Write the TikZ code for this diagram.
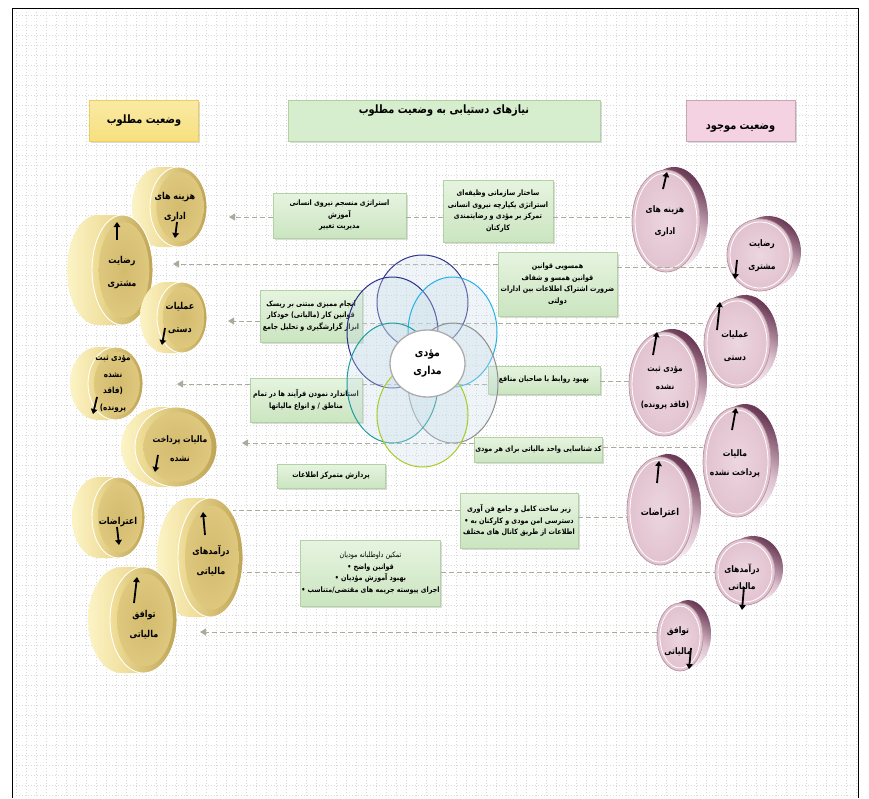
\documentclass[tikz,border=0pt]{standalone}
\usepackage{fontspec}
\usetikzlibrary{arrows.meta,shadows,shapes.geometric}
\TeXXeTstate=1
\newfontfamily\arabicfont[Script=Arabic, FakeStretch=0.85]{DejaVu Sans}
\newcommand{\fa}[1]{\beginR #1\endR}
\definecolor{gtop}{HTML}{E6F4E0}
\definecolor{gbot}{HTML}{CBE5C0}
\definecolor{gborder}{HTML}{B2D2A4}
\definecolor{dashc}{HTML}{A6AD9A}
\definecolor{ysideL}{HTML}{FCF4C6}
\definecolor{ysideR}{HTML}{EBD58A}
\definecolor{yfaceL}{HTML}{F1E09A}
\definecolor{yfaceR}{HTML}{BFA455}
\definecolor{yin}{HTML}{D3BB6E}
\definecolor{yout}{HTML}{DEC87E}
\definecolor{pface}{HTML}{E2C3D0}
\definecolor{pinner}{HTML}{ECD6E0}
\definecolor{pborder}{HTML}{B9929F}
\definecolor{pdark}{HTML}{6A3A56}
\definecolor{pmid}{HTML}{DCC0CD}
\definecolor{hY}{HTML}{F7E07E}
\definecolor{hYb}{HTML}{EDCF5C}
\definecolor{hG}{HTML}{D6EECD}
\definecolor{hP}{HTML}{F5D2E2}
\definecolor{vfill}{HTML}{C9DDEA}
\definecolor{navyA}{HTML}{34358F}
\definecolor{navyB}{HTML}{2C2E8C}
\definecolor{cyanC}{HTML}{22B2E6}
\definecolor{grayD}{HTML}{8E8E8E}
\definecolor{tealE}{HTML}{1E9C9E}
\definecolor{limeF}{HTML}{A9CC22}
\newcommand{\ycoin}[6]{%
  \path[left color=ysideL, right color=ysideR] ({#2},{#3-#5}) -- ({#2-#6},{#3-#5})
     arc[start angle=270, end angle=90, x radius=#4, y radius=#5] -- ({#2},{#3+#5}) -- cycle;
  \path[left color=yfaceL, right color=yfaceR, draw=white, line width=0.9pt] (#2,#3) ellipse ({#4} and {#5});
  \path[inner color=yin, outer color=yout] ({#2+1.5},#3) ellipse ({0.83*#4} and {0.87*#5});
  \node[coinnode, minimum width={2*#4}, minimum height={2*#5}] (#1) at (#2,#3) {};
}
\newcommand{\pcoin}[5]{%
  \path[shading=axis, top color=pdark, bottom color=white, middle color=pmid, shading angle=-35]
     ({#2+8},{#3-3}) ellipse ({#4} and {#5});
  \path[fill=pface, draw=pborder, line width=0.7pt] (#2,#3) ellipse ({#4} and {#5});
  \path[inner color=pinner, outer color=pface, draw=white, line width=0.8pt] (#2,#3) ellipse ({#4-3} and {#5-3});
  \node[coinnode, minimum width={2*#4}, minimum height={2*#5}] (#1) at (#2,#3) {};
}
\begin{document}
\begin{tikzpicture}[x=1pt,y=-1pt,
  griddot/.style={draw=gray!30, line width=0.5pt, dash pattern=on 0.6pt off 2.4pt},
  coinnode/.style={ellipse, inner sep=0pt, outer sep=0pt},
  gbox/.style={draw=gborder, line width=0.5pt, top color=gtop, bottom color=gbot,
     drop shadow={shadow xshift=1.5pt, shadow yshift=-1.5pt, fill=gray!55},
     inner sep=1pt, align=center, font=\arabicfont\bfseries\fontsize{7.5}{11.5}\selectfont},
  hdr/.style={line width=0.5pt, drop shadow={shadow xshift=1.5pt, shadow yshift=-1.5pt, fill=gray!55}},
  htext/.style={font=\arabicfont\bfseries\fontsize{11.5}{13}\selectfont, inner sep=0pt},
  ctext/.style={font=\arabicfont\bfseries\fontsize{9.5}{20}\selectfont, align=center, inner sep=0pt},
  dashline/.style={draw=dashc, line width=1pt, dash pattern=on 5pt off 3pt},
  darrow/.style={dashline, -{Triangle[length=6pt, width=7pt, fill=dashc]}},
  coinarrow/.style={line width=1.8pt, -{Triangle[length=5pt, width=6.5pt]}},
  venn/.style={line width=1pt, fill=vfill, fill opacity=0.3}]
\useasboundingbox (0,0) rectangle (869,798);
\fill[white] (0,0) rectangle (869,798);
% dotted background grid
\foreach \yy in {15,25,...,795} \draw[griddot] (16,\yy) -- (856,\yy);
\foreach \xx in {16,26,...,856} \draw[griddot] (\xx,12) -- (\xx,798);
% frame
\draw[black, line width=0.8pt] (12,798) -- (12,8) -- (858,8) -- (858,798);

% headers
\node[hdr, draw=hYb, top color=hY!70!white, bottom color=hY, minimum width=109pt, minimum height=41pt] (hY) at (144,120.5) {};
\node[htext] at (hY) {\fa{وضعیت مطلوب}};
\node[hdr, draw=gborder, fill=hG, minimum width=312pt, minimum height=41pt] (hG) at (444,120.5) {};
\node[htext] at (444,111) {\fa{نیازهای دستیابی به وضعیت مطلوب}};
\node[hdr, draw=hP!80!black, fill=hP, minimum width=109pt, minimum height=41pt] (hP) at (740.5,120.5) {};
\node[htext] at (740.5,128) {\fa{وضعیت موجود}};

% green boxes
\node[gbox, minimum width=133pt, minimum height=45pt] (A) at (339.5,215.5)
  {\fa{استراتژی منسجم  نیروی انسانی}\\\fa{آموزش}\\\fa{مدیریت تغییر}};
\node[gbox, minimum width=110pt, minimum height=62pt] (B) at (498,211)
  {\fa{ساختار سازمانی وظیفه‌ای}\\\fa{استراتژی یکپارچه نیروی انسانی}\\\fa{تمرکز بر مؤدی و رضایتمندی}\\\fa{کارکنان}};
\node[gbox, minimum width=119pt, minimum height=64pt] (C) at (557.5,284)
  {\fa{همسویی قوانین}\\\fa{قوانین همسو و شفاف}\\\fa{ضرورت اشتراک  اطلاعات بین ادارات}\\\fa{دولتی}};
\node[gbox, minimum width=102pt, minimum height=52pt] (D) at (311,316)
  {\fa{انجام ممیزی مبتنی بر ریسک}\\\fa{قوانین کار (مالیاتی) خودکار}\\\fa{ابزار گزارشگیری و تحلیل جامع}};
\node[gbox, minimum width=112pt, minimum height=28pt] (E) at (544,380)
  {\fa{بهبود روابط با صاحبان منافع}};
\node[gbox, minimum width=112pt, minimum height=44pt] (F) at (306,400)
  {\fa{استاندارد نمودن فرآیند ها در تمام}\\\fa{مناطق / و انواع مالیاتها}};
\node[gbox, minimum width=127pt, minimum height=25pt] (G) at (538.5,449.5)
  {\fa{کد شناسایی واحد مالیاتی برای هر مودی}};
\node[gbox, minimum width=108pt, minimum height=24pt] (J) at (331,476)
  {\fa{پردازش متمرکز اطلاعات}};
\node[gbox, minimum width=118pt, minimum height=55pt] (H) at (519,520.5)
  {\fa{زیر ساخت کامل و جامع فن آوری}\\\fa{دسترسی امن مودی و  کارکنان به •}\\\fa{اطلاعات از طریق کانال های مختلف}};
\node[gbox, minimum width=135pt, minimum height=66pt] (I) at (370.5,573)
  {{\mdseries\fa{تمکین داوطلبانه مودیان}}\\\fa{قوانین واضح •}\\\fa{بهبود آموزش مؤدیان •}\\\fa{اجرای پیوسته جریمه های مقتضی/متناسب •}};

% coins (yellow, left)
\ycoin{y1}{178.5}{207}{28.5}{40}{18}
\ycoin{y2}{122.5}{270}{30.5}{55}{25}
\ycoin{y3}{182}{317.5}{25}{35.5}{17}
\ycoin{y4}{115.5}{383.5}{27.5}{36.5}{18}
\ycoin{y5}{176}{447}{41}{40}{14}
\ycoin{y6}{118.5}{517.5}{26.5}{40.5}{20}
\ycoin{y7}{210.5}{557.5}{32.5}{59.5}{21}
\ycoin{y8}{143.5}{620}{33.5}{53}{22}
% coins (pink, right)
\pcoin{p1}{666}{221}{34}{51}
\pcoin{p2}{760}{255}{33}{36}
\pcoin{p3}{737}{343}{33}{45}
\pcoin{p4}{664}{384}{35}{52}
\pcoin{p5}{737}{462}{34}{55}
\pcoin{p6}{660}{511}{33}{54}
\pcoin{p7}{745}{572}{30}{33}
\pcoin{p8}{680}{637}{23}{34}

% connector rows
\coordinate (r1) at (0,217);
\coordinate (r2) at (0,264);
\coordinate (r2b) at (0,267);
\coordinate (r3) at (0,321);
\coordinate (r3b) at (0,323);
\coordinate (r4) at (0,384);
\coordinate (r4b) at (0,381);
\coordinate (r5) at (0,443);
\coordinate (r5b) at (0,447);
\coordinate (r6) at (0,510);
\coordinate (r6b) at (0,517);
\coordinate (r7) at (0,572);
\coordinate (r8) at (0,632);
\coordinate (t1) at (229,217);
\coordinate (t2) at (173,264);
\coordinate (t3) at (228,321);
\coordinate (t4) at (177,384);
\coordinate (t5) at (242,443);
\coordinate (t6) at (233,510);
\coordinate (t7) at (243,572);
\coordinate (t8) at (200,632);

\draw[darrow] (A.west |- r1) -- (t1);
\draw[dashline] (A.east |- r1) -- (B.west |- r1);
\draw[dashline] (B.east |- r1) -- (p1.west |- r1);
\draw[darrow] (C.west |- r2) -- (t2);
\draw[dashline] (C.east |- r2b) -- (p2.west |- r2b);
\draw[darrow] (D.west |- r3) -- (t3);
\draw[dashline] (D.east |- r3b) -- (p3.west |- r3b);
\draw[darrow] (F.west |- r4) -- (t4);
\draw[dashline] (F.east |- r4) -- (E.west |- r4);
\draw[dashline] (E.east |- r4b) -- (p4.west |- r4b);
\draw[darrow] (G.west |- r5) -- (t5);
\draw[dashline] (G.east |- r5b) -- (p5.west |- r5b);
\draw[dashline] (H.west |- r6) -- (t6);
\draw[dashline] (H.east |- r6b) -- (p6.west |- r6b);
\draw[dashline] (I.west |- r7) -- (t7);
\draw[dashline] (I.east |- r7) -- (p7.west |- r7);
\draw[darrow] (p8.west |- r8) -- (t8);

% venn petals
\draw[venn, draw=navyA] (422.5,302.5) ellipse (45.5 and 47.5);
\draw[venn, draw=navyB] (392.5,332.5) ellipse (45.5 and 55.5);
\draw[venn, draw=cyanC] (452.5,332) ellipse (44.5 and 55);
\draw[venn, draw=grayD] (453,383) ellipse (45 and 60);
\draw[venn, draw=tealE] (392.5,383) ellipse (45.5 and 60);
\draw[venn, draw=limeF] (422.5,415) ellipse (45.5 and 52);
\node[ellipse, draw=gray!65, line width=1.3pt, fill=white, minimum width=75pt, minimum height=67pt,
      font=\arabicfont\bfseries\fontsize{11}{18}\selectfont, align=center, inner sep=0pt] (ctr) at (427.5,363.5)
  {\fa{مؤدی}\\\fa{مداری}};

% coin texts
\node[ctext] at (175,207) {\fa{هزینه های}\\\fa{اداری}};
\node[ctext, font=\arabicfont\bfseries\fontsize{9.5}{23}\selectfont] at (122,273) {\fa{رضایت}\\\fa{مشتری}};
\node[ctext, font=\arabicfont\bfseries\fontsize{9.5}{23}\selectfont] at (180,318) {\fa{عملیات}\\\fa{دستی}};
\node[ctext, font=\arabicfont\bfseries\fontsize{8.5}{16.5}\selectfont] at (113,384) {\fa{مؤدی ثبت}\\\fa{نشده}\\\fa{(فاقد}\\\fa{پرونده)}};
\node[ctext, font=\arabicfont\bfseries\fontsize{9}{19}\selectfont] at (180,449) {\fa{مالیات پرداخت}\\\fa{نشده}};
\node[ctext] at (118,522) {\fa{اعتراضات}};
\node[ctext] at (211,561) {\fa{درآمدهای}\\\fa{مالیاتی}};
\node[ctext] at (144,625) {\fa{توافق}\\\fa{مالیاتی}};

\node[ctext, font=\arabicfont\bfseries\fontsize{9}{22}\selectfont] at (665,221) {\fa{هزینه های}\\\fa{اداری}};
\node[ctext, font=\arabicfont\bfseries\fontsize{9}{23}\selectfont] at (762,256) {\fa{رضایت}\\\fa{مشتری}};
\node[ctext, font=\arabicfont\bfseries\fontsize{9}{23}\selectfont] at (735,346) {\fa{عملیات}\\\fa{دستی}};
\node[ctext, font=\arabicfont\bfseries\fontsize{8.5}{18}\selectfont] at (665,388) {\fa{مؤدی ثبت}\\\fa{نشده}\\\fa{(فاقد پرونده)}};
\node[ctext, font=\arabicfont\bfseries\fontsize{9}{19}\selectfont] at (735,464) {\fa{مالیات}\\\fa{پرداخت نشده}};
\node[ctext] at (660,513) {\fa{اعتراضات}};
\node[ctext, font=\arabicfont\bfseries\fontsize{9}{17}\selectfont] at (742,577) {\fa{درآمدهای}\\\fa{مالیاتی}};
\node[ctext, font=\arabicfont\bfseries\fontsize{9}{21}\selectfont] at (678,641) {\fa{توافق}\\\fa{مالیاتی}};

% coin arrows
\draw[coinarrow] (177,222) -- (175,238);
\draw[coinarrow] (117,240) -- (117,222);
\draw[coinarrow] (165,328) -- (162,345);
\draw[coinarrow] (97,397) -- (93,414);
\draw[coinarrow] (158,455) -- (155,472);
\draw[coinarrow] (117,527) -- (119,545);
\draw[coinarrow] (205,535) -- (203,512);
\draw[coinarrow] (134,603) -- (137,577);
\draw[coinarrow] (663,189) -- (667,172);
\draw[coinarrow] (737,260) -- (735,279);
\draw[coinarrow] (717,330) -- (720,302);
\draw[coinarrow] (653,355) -- (657,332);
\draw[coinarrow] (732,430) -- (736,408);
\draw[coinarrow] (657,483) -- (659,461);
\draw[coinarrow] (744,587) -- (742,610);
\draw[coinarrow] (691,648) -- (689,669);
\end{tikzpicture}
\end{document}
